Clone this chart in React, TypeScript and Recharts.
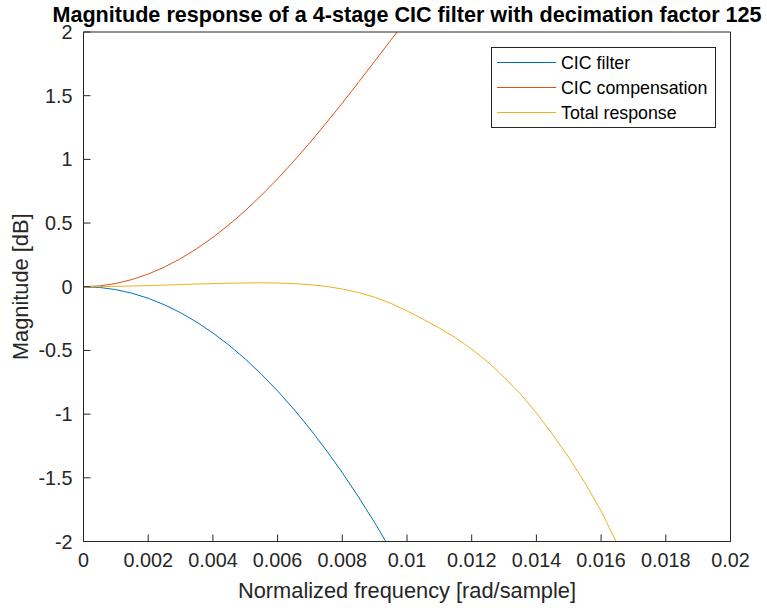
import React from 'react';
import { LineChart, Line, XAxis, YAxis, Legend } from 'recharts';

// Normalized frequency samples [rad/sample]
const freq = [
  0, 0.0005, 0.001, 0.0015, 0.002, 0.0025, 0.003, 0.0035, 0.004, 0.0045,
  0.005, 0.0055, 0.006, 0.0065, 0.007, 0.0075, 0.008, 0.0085, 0.009, 0.0095,
  0.01, 0.0105, 0.011, 0.0115, 0.012, 0.0125, 0.013, 0.0135, 0.014, 0.0145,
  0.015, 0.0155, 0.016, 0.0165, 0.017,
];

// CIC filter magnitude [dB]
const cicFilter = [
  0, -0.0057, -0.0226, -0.0509, -0.0905, -0.1415, -0.2038, -0.2775, -0.3627, -0.4593,
  -0.5673, -0.687, -0.8182, -0.961, -1.1155, -1.2818, -1.4599, -1.6499, -1.8519, -2.0659,
  -2.2921, -2.5306,
];

// CIC compensation magnitude [dB]
const cicCompensation = [
  0, 0.0067, 0.0256, 0.0569, 0.0995, 0.1545, 0.2208, 0.2985, 0.3877, 0.4873,
  0.5973, 0.718, 0.8472, 0.986, 1.1315, 1.2848, 1.4419, 1.6049, 1.7699, 1.9359,
  2.1021, 2.2756,
];

// Total response magnitude [dB]
const totalResponse = [
  0, 0.001, 0.003, 0.006, 0.009, 0.013, 0.017, 0.021, 0.025, 0.028,
  0.03, 0.031, 0.029, 0.025, 0.016, 0.003, -0.018, -0.045, -0.082, -0.13,
  -0.19, -0.255, -0.325, -0.4, -0.49, -0.59, -0.71, -0.84, -0.99, -1.16,
  -1.34, -1.54, -1.76, -2.02, -2.3,
];

const xTicks = [0, 0.002, 0.004, 0.006, 0.008, 0.01, 0.012, 0.014, 0.016, 0.018, 0.02];
const yTicks = [-2, -1.5, -1, -0.5, 0, 0.5, 1, 1.5, 2];

const seriesNames = ['CIC filter', 'CIC compensation', 'Total response'];

const title = 'Magnitude response of a 4-stage CIC filter with decimation factor 125';
const xLabel = 'Normalized frequency [rad/sample]';
const yLabel = 'Magnitude [dB]';

const data = freq.map((f, i) => ({
  f,
  cic: i < cicFilter.length ? cicFilter[i] : null,
  comp: i < cicCompensation.length ? cicCompensation[i] : null,
  total: i < totalResponse.length ? totalResponse[i] : null,
}));

const FONT = '"Liberation Sans", Arial, Helvetica, sans-serif';
const AXIS = '#262626';
const COLORS = ['#0072BD', '#D95319', '#EDB120'];

const W = 767;
const H = 608;
const PL = 83.5;
const PR = 730.5;
const PT = 32;
const PB = 541.5;

const tickStyle = { fontSize: 19.8, fontFamily: FONT, fill: AXIS };

const LegendBox = (props: any) => {
  const payload: any[] = props.payload || [];
  const ordered = seriesNames
    .map((n) => payload.find((p: any) => p.value === n))
    .filter(Boolean);
  return (
    <svg width={225} height={81} style={{ display: 'block' }}>
      <rect x={0.5} y={0.5} width={224} height={80} fill="#fff" stroke={AXIS} strokeWidth={1} />
      {ordered.map((p: any, i: number) => {
        const cy = 15.5 + i * 25;
        return (
          <g key={i}>
            <line x1={6} x2={65} y1={cy} y2={cy} stroke={p.color} strokeWidth={1} />
            <text x={70} y={cy} dy="0.35em" fontSize={17.8} fontFamily={FONT} fill="#000">
              {p.value}
            </text>
          </g>
        );
      })}
    </svg>
  );
};

export default function App() {
  return (
    <div style={{ position: 'absolute', left: 0, top: 0, width: W, height: H, background: '#fff' }}>
      <LineChart
        width={W}
        height={H}
        data={data}
        margin={{ top: 0, right: 0, bottom: 0, left: 0 }}
      >
        <XAxis
          xAxisId={0}
          dataKey="f"
          type="number"
          domain={[0, 0.02]}
          ticks={xTicks}
          interval={0}
          allowDataOverflow
          height={H - PB}
          tickSize={-7}
          tickMargin={18}
          tick={tickStyle}
          stroke={AXIS}
          tickFormatter={(v: number) => String(v)}
        />
        <XAxis
          xAxisId="top"
          orientation="top"
          type="number"
          domain={[0, 0.02]}
          ticks={xTicks}
          interval={0}
          allowDataOverflow
          height={PT}
          tickSize={-7}
          tick={false as any}
          stroke={AXIS}
        />
        <YAxis
          yAxisId={0}
          type="number"
          domain={[-2, 2]}
          ticks={yTicks}
          interval={0}
          allowDataOverflow
          width={PL}
          tickSize={-7}
          tickMargin={18}
          tick={tickStyle}
          stroke={AXIS}
          tickFormatter={(v: number) => String(v)}
        />
        <YAxis
          yAxisId="right"
          orientation="right"
          type="number"
          domain={[-2, 2]}
          ticks={yTicks}
          interval={0}
          allowDataOverflow
          width={W - PR}
          tickSize={-7}
          tick={false as any}
          stroke={AXIS}
        />
        <Line
          type="linear"
          dataKey="cic"
          name={seriesNames[0]}
          stroke={COLORS[0]}
          strokeWidth={1}
          dot={false}
          isAnimationActive={false}
        />
        <Line
          type="linear"
          dataKey="comp"
          name={seriesNames[1]}
          stroke={COLORS[1]}
          strokeWidth={1}
          dot={false}
          isAnimationActive={false}
        />
        <Line
          type="linear"
          dataKey="total"
          name={seriesNames[2]}
          stroke={COLORS[2]}
          strokeWidth={1}
          dot={false}
          isAnimationActive={false}
        />
        <Legend
          layout="horizontal"
          verticalAlign="middle"
          align="center"
          content={<LegendBox />}
          wrapperStyle={{ left: 490.5, top: 47, width: 225, height: 81 }}
        />
      </LineChart>
      <svg
        width={W}
        height={H}
        style={{ position: 'absolute', left: 0, top: 0, pointerEvents: 'none' }}
      >
        <text
          x={(PL + PR) / 2}
          y={21.5}
          textAnchor="middle"
          fontSize={21.6}
          fontWeight="bold"
          fontFamily={FONT}
          fill="#000"
        >
          {title}
        </text>
        <text
          x={(PL + PR) / 2}
          y={598}
          textAnchor="middle"
          fontSize={21.8}
          fontFamily={FONT}
          fill={AXIS}
        >
          {xLabel}
        </text>
        <text
          transform={`translate(28, ${(PT + PB) / 2}) rotate(-90)`}
          textAnchor="middle"
          fontSize={21.8}
          fontFamily={FONT}
          fill={AXIS}
        >
          {yLabel}
        </text>
      </svg>
    </div>
  );
}
